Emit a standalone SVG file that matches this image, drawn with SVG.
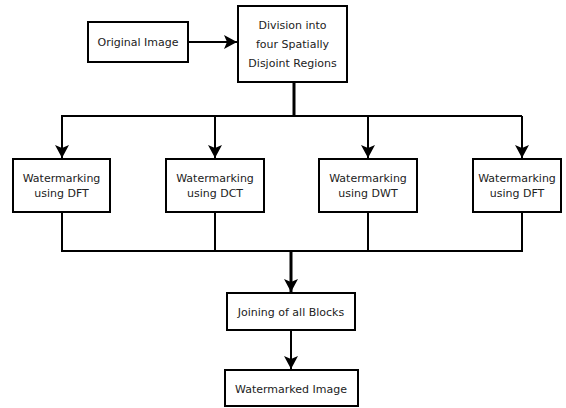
<svg xmlns="http://www.w3.org/2000/svg" width="566" height="408" viewBox="0 0 566 408">
<style>
.box{fill:#fff;stroke:#000;stroke-width:2}
.t{font-family:"DejaVu Sans",Verdana,sans-serif;font-size:11px;fill:#222;text-anchor:middle}
.c{fill:none;stroke:#000;stroke-width:2}
.ct{fill:none;stroke:#000;stroke-width:3}
</style>
<defs>
<marker id="ah" markerUnits="userSpaceOnUse" markerWidth="16" markerHeight="16" viewBox="-15 -8 16 16" refX="0" refY="0" orient="auto">
<path d="M0,0 L-13,-7 L-10,0 L-13,7 Z" fill="#000"/>
</marker>
</defs>
<rect width="566" height="408" fill="#fff"/>
<g id="connectors">
<path class="c" d="M188,42 L237,42" marker-end="url(#ah)"/>
<path class="ct" d="M294,82 L294,116"/>
<path class="c" d="M61,116 L522,116"/>
<path class="c" d="M62,116 L62,158" marker-end="url(#ah)"/>
<path class="c" d="M215,116 L215,158" marker-end="url(#ah)"/>
<path class="c" d="M368,116 L368,158" marker-end="url(#ah)"/>
<path class="c" d="M522,116 L522,158" marker-end="url(#ah)"/>
<path class="c" d="M62,212 L62,251 M215,212 L215,251 M368,212 L368,251 M522,212 L522,251 M61,251 L523,251"/>
<path class="ct" d="M291,251 L291,292" marker-end="url(#ah)"/>
<path class="c" d="M291,330 L291,369" marker-end="url(#ah)"/>
</g>
<g id="original">
<rect class="box" x="88" y="22" width="100" height="40"/>
<text class="t" x="138" y="46">Original Image</text>
</g>
<g id="division">
<rect class="box" x="238" y="6" width="109" height="76"/>
<text class="t" x="292.5" y="29">Division into</text>
<text class="t" x="292.5" y="48">four Spatially</text>
<text class="t" x="292.5" y="67">Disjoint Regions</text>
</g>
<g id="dft1">
<rect class="box" x="13" y="159" width="97" height="53"/>
<text class="t" x="61.5" y="182">Watermarking</text>
<text class="t" x="61.5" y="197">using DFT</text>
</g>
<g id="dct">
<rect class="box" x="166" y="159" width="98" height="53"/>
<text class="t" x="215" y="182">Watermarking</text>
<text class="t" x="215" y="197">using DCT</text>
</g>
<g id="dwt">
<rect class="box" x="319" y="159" width="98" height="53"/>
<text class="t" x="368" y="182">Watermarking</text>
<text class="t" x="368" y="197">using DWT</text>
</g>
<g id="dft2">
<rect class="box" x="473" y="159" width="88" height="53"/>
<text class="t" x="517" y="182">Watermarking</text>
<text class="t" x="517" y="197">using DFT</text>
</g>
<g id="joining">
<rect class="box" x="227" y="293" width="128" height="37"/>
<text class="t" x="291" y="316">Joining of all Blocks</text>
</g>
<g id="watermarked">
<rect class="box" x="225" y="370" width="133" height="36"/>
<text class="t" x="291" y="393">Watermarked Image</text>
</g>
</svg>
